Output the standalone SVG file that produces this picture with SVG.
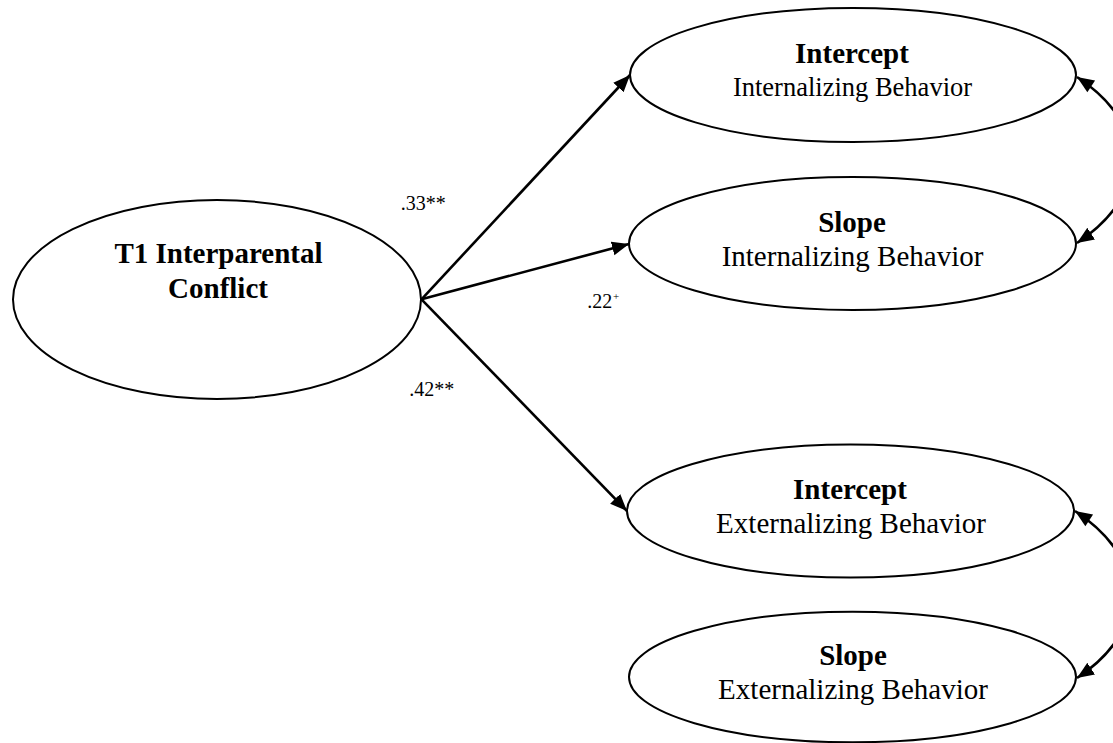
<svg xmlns="http://www.w3.org/2000/svg" width="1113" height="743" viewBox="0 0 1113 743">
<style>
.node{fill:#fff;stroke:#000;stroke-width:2}
.edge{fill:none;stroke:#000;stroke-width:2.6}
.b{font-family:"Liberation Serif","Times New Roman",serif;font-weight:bold;font-size:29px;fill:#000;text-anchor:middle}
.r{font-family:"Liberation Serif","Times New Roman",serif;font-size:29px;fill:#000;text-anchor:middle}
.lab{font-family:"Liberation Serif","Times New Roman",serif;font-size:20px;fill:#000}
</style>
<defs>
<marker id="ah" markerUnits="userSpaceOnUse" markerWidth="18" markerHeight="15" refX="17" refY="7" orient="auto">
<path d="M0,0 L17,7 L0,14 z" fill="#000"/>
</marker>
<marker id="ahs" markerUnits="userSpaceOnUse" markerWidth="18" markerHeight="15" refX="0" refY="7" orient="auto">
<path d="M17,0 L0,7 L17,14 z" fill="#000"/>
</marker>
</defs>
<rect width="1113" height="743" fill="#fff"/>
<g id="connectors">
<line class="edge" x1="421.5" y1="299.3" x2="630" y2="75" marker-end="url(#ah)"/>
<line class="edge" x1="421.5" y1="299.3" x2="629" y2="244" marker-end="url(#ah)"/>
<line class="edge" x1="421.5" y1="299.3" x2="627" y2="511" marker-end="url(#ah)"/>
<path class="edge" d="M1077,77 C1150,125 1150,195 1077,243" marker-start="url(#ahs)" marker-end="url(#ah)"/>
<path class="edge" d="M1075,511 C1148,559 1150,630 1077,678" marker-start="url(#ahs)" marker-end="url(#ah)"/>
</g>
<g id="conflict">
<ellipse class="node" cx="217" cy="299.5" rx="204" ry="99.5"/>
<text class="b" x="218.5" y="263">T1 Interparental</text>
<text class="b" x="218" y="298">Conflict</text>
</g>
<g id="intercept-int">
<ellipse class="node" cx="853" cy="75" rx="223" ry="67"/>
<text class="b" x="852" y="63">Intercept</text>
<text class="r" x="852.5" y="96" style="font-size:26.5px">Internalizing Behavior</text>
</g>
<g id="slope-int">
<ellipse class="node" cx="852.5" cy="243.5" rx="223.5" ry="66.5"/>
<text class="b" x="852" y="232">Slope</text>
<text class="r" x="852.5" y="266">Internalizing Behavior</text>
</g>
<g id="intercept-ext">
<ellipse class="node" cx="850.5" cy="511" rx="223.5" ry="66.5"/>
<text class="b" x="850" y="499">Intercept</text>
<text class="r" x="851" y="533">Externalizing Behavior</text>
</g>
<g id="slope-ext">
<ellipse class="node" cx="852.5" cy="677" rx="223.5" ry="65.3"/>
<text class="b" x="853" y="665">Slope</text>
<text class="r" x="853" y="699">Externalizing Behavior</text>
</g>
<g id="labels">
<text class="lab" x="400.7" y="210">.33**</text>
<text class="lab" x="587.3" y="307.7">.22</text>
<text class="lab" x="613" y="299.5" style="font-size:11px">+</text>
<text class="lab" x="409.3" y="396">.42**</text>
</g>
</svg>
